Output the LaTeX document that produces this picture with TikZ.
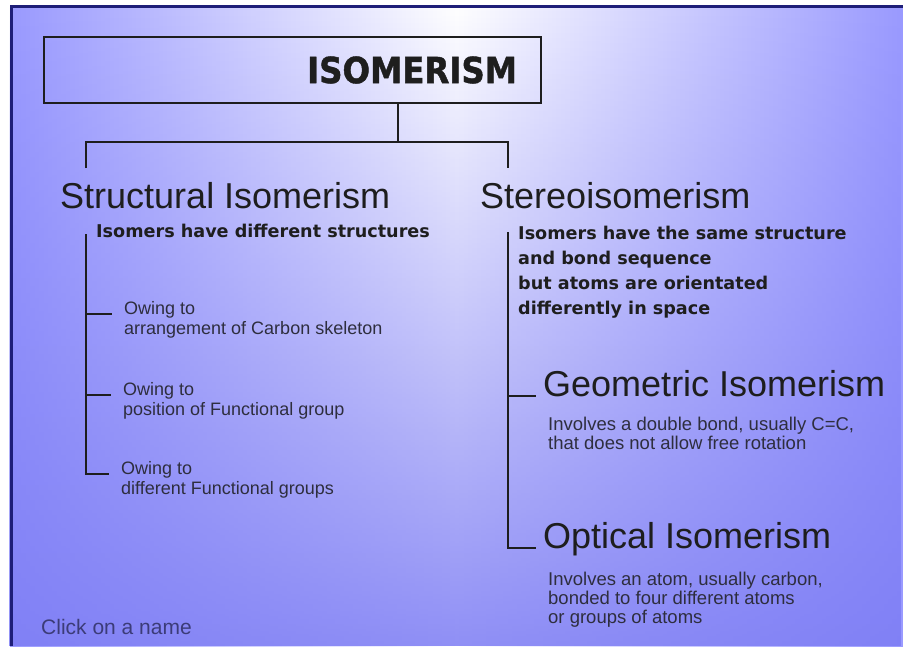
\documentclass[tikz,border=0pt]{standalone}
\usepackage{fontspec}
\setmainfont{Liberation Sans}
\newfontfamily\heavyfont{DejaVu Sans}
\newfontfamily\titlefont[FakeBold=1.2]{DejaVu Sans Condensed}
\usetikzlibrary{fadings}
\definecolor{slideblue}{HTML}{9A9AFF}
\definecolor{slidedeep}{HTML}{7C7CF4}
\definecolor{slideedge}{HTML}{1E1E78}
\definecolor{inkdark}{HTML}{1E1E1E}
\definecolor{inksoft}{HTML}{2E2E3E}
\definecolor{clickink}{HTML}{3C3C78}
\begin{document}
\begin{tikzpicture}[x=1pt,y=-1pt,
  branch/.style={draw=inkdark, line width=2pt},
  titlebox/.style={draw=inkdark, line width=1.6pt, minimum width=497pt, minimum height=66pt, text width=449pt, inner xsep=24pt, align=right, font=\titlefont\bfseries\fontsize{36}{40}\selectfont, text=inkdark},
  heading/.style={anchor=base west, inner sep=0pt, font=\fontsize{36}{40}\selectfont, text=inkdark},
  subheading/.style={anchor=base west, inner ysep=0pt, inner xsep=7pt, font=\fontsize{36}{40}\selectfont, text=inkdark},
  keypoint/.style={anchor=base west, inner sep=0pt, align=left, font=\heavyfont\bfseries\fontsize{17.6}{25}\selectfont, text=inkdark},
  owing/.style={anchor=base west, inner ysep=0pt, inner xsep=12pt, align=left, font=\fontsize{18}{20.5}\selectfont, text=inksoft},
  detail/.style={anchor=base west, inner sep=0pt, align=left, font=\fontsize{18.5}{19}\selectfont, text=inksoft}]
\useasboundingbox (0,0) rectangle (903,649);
\fill[white] (0,0) rectangle (903,649);
\shade[left color=slideblue, right color=slideblue, middle color=white] (10,5) rectangle (903,646);
\fill[slidedeep, path fading=north, opacity=0.85] (10,5) rectangle (903,646);
\draw[slideedge, line width=3pt] (11.5,646) -- (11.5,6.5) -- (903,6.5);

\node[titlebox] (title) at (292.5,70) {ISOMERISM};
\coordinate (fork) at (398,142);
\coordinate (structdrop) at (86,168);
\coordinate (stereodrop) at (508,168);
\draw[branch] (title.south -| fork) -- (fork);
\draw[branch] (structdrop) |- (fork) -| (stereodrop);

\node[heading] (structural) at (60,208) {Structural Isomerism};
\node[heading] (stereo) at (480,208) {Stereoisomerism};
\node[keypoint] (structnote) at (96,237) {Isomers have different structures};
\node[keypoint] (stereonote) at (518,314) {Isomers have the same structure\\and bond sequence\\but atoms are orientated\\differently in space};

\coordinate (structspine) at (86,234);
\node[owing] (skeleton) at (112,334.5) {Owing to\\arrangement of Carbon skeleton};
\node[owing] (position) at (111,415.5) {Owing to\\position of Functional group};
\node[owing] (groups) at (109,494.5) {Owing to\\different Functional groups};
\coordinate (skeletontick) at ([yshift=20.5pt]skeleton.base west);
\coordinate (positiontick) at ([yshift=20.5pt]position.base west);
\coordinate (groupstick) at ([yshift=20.5pt]groups.base west);
\draw[branch] (structspine) |- (groupstick);
\draw[branch] (structspine |- skeletontick) -- (skeletontick);
\draw[branch] (structspine |- positiontick) -- (positiontick);

\coordinate (stereospine) at (508,232);
\node[subheading] (geometric) at (536,396) {Geometric Isomerism};
\node[subheading] (optical) at (536,548) {Optical Isomerism};
\draw[branch] (stereospine) |- (optical.base west);
\draw[branch] (stereospine |- geometric.base) -- (geometric.base west);
\node[detail] (geodetail) at (548,449) {Involves a double bond, usually C=C,\\that does not allow free rotation};
\node[detail] (opticaldetail) at (548,623) {Involves an atom, usually carbon,\\bonded to four different atoms\\or groups of atoms};

\node[anchor=base west, inner sep=0pt, font=\fontsize{21}{24}\selectfont, text=clickink] (click) at (41,634) {Click on a name};
\end{tikzpicture}
\end{document}
